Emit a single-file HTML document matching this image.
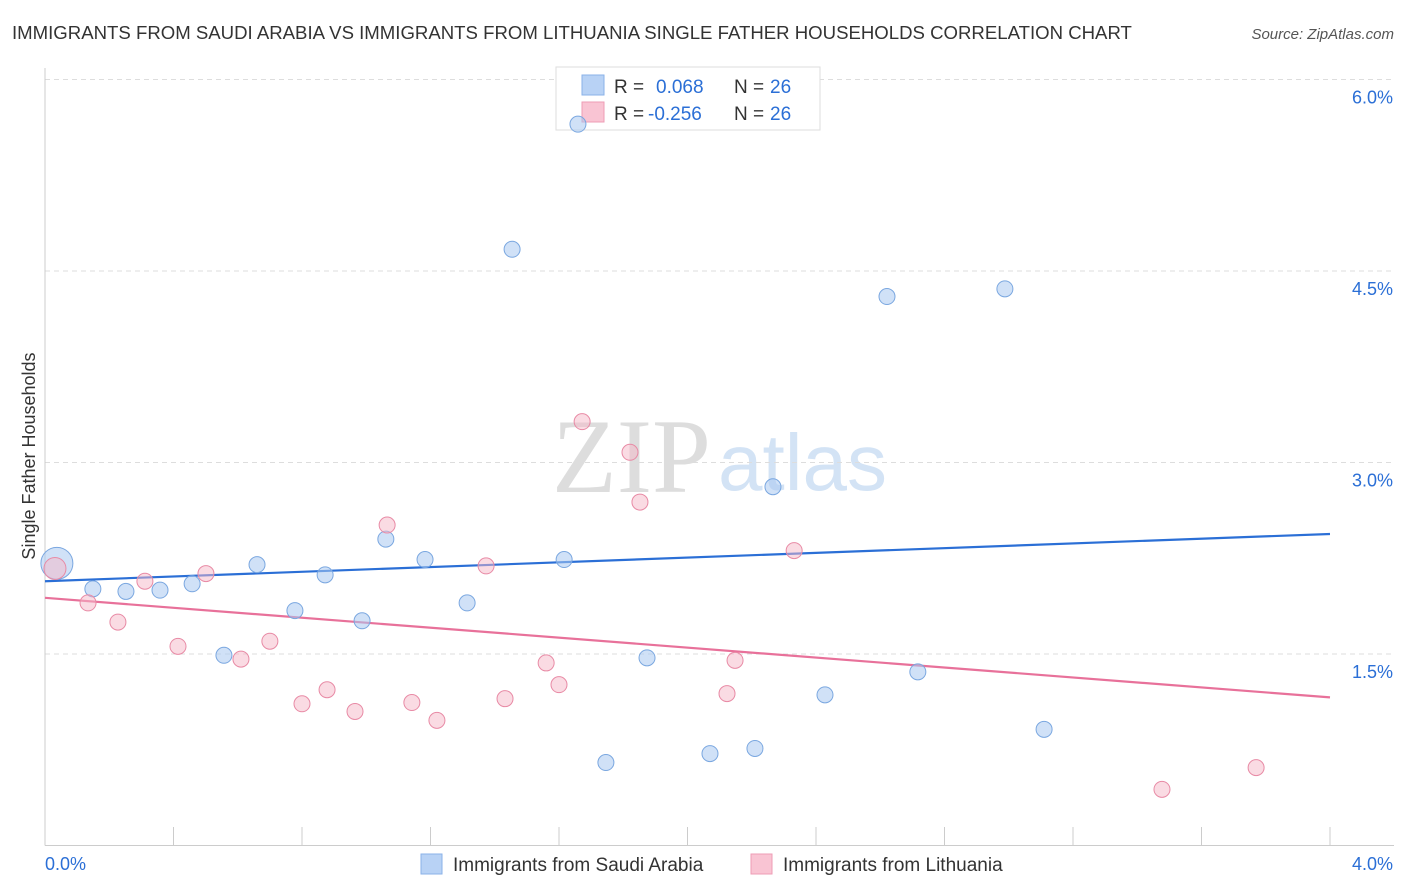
<!DOCTYPE html>
<html><head><meta charset="utf-8"><style>
body{margin:0;background:#fff;font-family:"Liberation Sans",sans-serif;}
svg{display:block}
</style></head><body>
<svg id="chart" width="1406" height="892">
<text x="12" y="39" font-size="18.6" fill="#333">IMMIGRANTS FROM SAUDI ARABIA VS IMMIGRANTS FROM LITHUANIA SINGLE FATHER HOUSEHOLDS CORRELATION CHART</text>
<text x="1394" y="39" font-size="15" fill="#555" font-style="italic" text-anchor="end">Source: ZipAtlas.com</text>
<g>
<text x="552" y="492" font-size="106" font-family="Liberation Serif,serif" fill="#ddd">ZIP</text>
<text x="718" y="490" font-size="80" fill="#d3e3f5">atlas</text>
</g>
<g id="grid"></g>
<g id="axes"></g>
<g>
<rect x="556" y="67" width="264" height="63" fill="#fff" stroke="#ddd"/>
<rect x="582" y="75" width="22" height="20" fill="#b8d2f5" stroke="#8ab2e8"/>
<rect x="582" y="102" width="22" height="20" fill="#f9c4d3" stroke="#ee9cb6"/>
<text x="614" y="93" font-size="19" fill="#333">R =</text><text x="656" y="93" font-size="19" fill="#2b6fd6">0.068</text>
<text x="734" y="93" font-size="19" fill="#333">N =</text><text x="770" y="93" font-size="19" fill="#2b6fd6">26</text>
<text x="614" y="120" font-size="19" fill="#333">R =</text><text x="648" y="120" font-size="19" fill="#2b6fd6">-0.256</text>
<text x="734" y="120" font-size="19" fill="#333">N =</text><text x="770" y="120" font-size="19" fill="#2b6fd6">26</text>
</g>
<g id="trends"></g>
<g id="points"></g>
<text x="35" y="456" font-size="18" fill="#333" text-anchor="middle" transform="rotate(-90 35 456)">Single Father Households</text>
<g>
<rect x="421" y="854" width="21" height="20" fill="#b8d2f5" stroke="#8ab2e8"/>
<text x="453" y="871" font-size="19" fill="#333">Immigrants from Saudi Arabia</text>
<rect x="751" y="854" width="21" height="20" fill="#f9c4d3" stroke="#ee9cb6"/>
<text x="783" y="871" font-size="19" fill="#333">Immigrants from Lithuania</text>
</g>
</svg>
<script>
const blueX=[0.037,0.149,0.252,0.358,0.458,0.557,0.660,0.778,0.872,0.987,1.061,1.183,1.314,1.454,1.616,1.659,1.746,1.874,2.070,2.210,2.266,2.428,2.621,2.717,2.988,3.110];
const blueY=[2.21,2.01,1.99,2.00,2.05,1.49,2.20,1.84,2.12,1.76,2.40,2.24,1.90,4.67,2.24,5.65,0.65,1.47,0.72,0.76,2.81,1.18,4.30,1.36,4.36,0.91];
const pinkX=[0.031,0.134,0.227,0.311,0.414,0.501,0.610,0.700,0.800,0.878,0.965,1.065,1.142,1.220,1.373,1.432,1.560,1.600,1.672,1.821,1.852,2.123,2.148,2.332,3.477,3.770];
const pinkY=[2.17,1.90,1.75,2.07,1.56,2.13,1.46,1.60,1.11,1.22,1.05,2.51,1.12,0.98,2.19,1.15,1.43,1.26,3.32,3.08,2.69,1.19,1.45,2.31,0.44,0.61];
const blueTrend=[2.07,2.44];
const pinkTrend=[1.94,1.16];
const yTicks=[1.5,3.0,4.5,6.0];
const yTickLabels=["1.5%","3.0%","4.5%","6.0%"];
const xTicks=[0,0.4,0.8,1.2,1.6,2.0,2.4,2.8,3.2,3.6,4.0];
const X0=45,X1=1330,YB=845.5,PPU=127.67;
const sx=v=>X0+(v/4)*(X1-X0);
const sy=v=>YB-v*PPU;
const NS="http://www.w3.org/2000/svg";
function mk(tag,attrs,parent){const e=document.createElementNS(NS,tag);for(const k in attrs)e.setAttribute(k,attrs[k]);document.getElementById(parent).appendChild(e);return e;}
yTicks.forEach((t,i)=>{
 const g=mk('line',{x1:X0,x2:1394,y1:sy(t),y2:sy(t),stroke:'#ddd','stroke-dasharray':'5,4'},'grid');
 
 
 const l=mk('text',{x:1393,y:sy(t)+24,'font-size':18,fill:'#2b6fd6','text-anchor':'end'},'axes');
 l.textContent=yTickLabels[i];
 
 
});
const ax=mk('line',{x1:X0,x2:X0,y1:68,y2:YB,stroke:'#ccc'},'axes');


const bx=mk('line',{x1:X0,x2:1394,y1:YB,y2:YB,stroke:'#ccc'},'axes');


xTicks.forEach(t=>{
 const k=mk('line',{x1:sx(t),x2:sx(t),y1:827,y2:YB,stroke:'#ccc'},'axes');
 
 
});
const xl0=mk('text',{x:45,y:870,'font-size':18,fill:'#2b6fd6'},'axes');xl0.textContent='0.0%';


const xl1=mk('text',{x:1393,y:870,'font-size':18,fill:'#2b6fd6','text-anchor':'end'},'axes');xl1.textContent='4.0%';


const tb=mk('line',{x1:sx(0),x2:sx(4),y1:sy(blueTrend[0]),y2:sy(blueTrend[1]),stroke:'#2b6fd6','stroke-width':2.2},'trends');


const tp=mk('line',{x1:sx(0),x2:sx(4),y1:sy(pinkTrend[0]),y2:sy(pinkTrend[1]),stroke:'#e8719a','stroke-width':2.2},'trends');


blueX.forEach((x,i)=>{
 const c=mk('circle',{cx:sx(x),cy:sy(blueY[i]),r:i===0?16:8,fill:'rgba(169,200,240,0.55)',stroke:'#7aa7e0','stroke-width':1},'points');
 
 
});
pinkX.forEach((x,i)=>{
 const c=mk('circle',{cx:sx(x),cy:sy(pinkY[i]),r:i===0?11:8,fill:'rgba(245,184,200,0.5)',stroke:'#e88aa5','stroke-width':1},'points');
 
 
});
</script>
</body></html>
